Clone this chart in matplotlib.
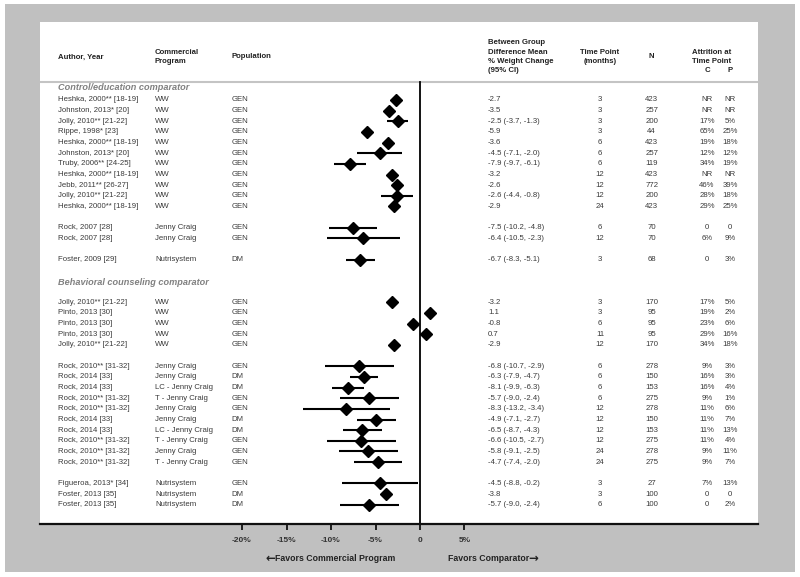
import matplotlib
matplotlib.use('Agg')
import matplotlib.pyplot as plt
from matplotlib.patches import Rectangle

plt.rcParams['font.family'] = ['Liberation Sans', 'DejaVu Sans']

# ---- data ----
authors = [
    'Heshka, 2000** [18-19]', 'Johnston, 2013* [20]', 'Jolly, 2010** [21-22]', 'Rippe, 1998* [23]',
    'Heshka, 2000** [18-19]', 'Johnston, 2013* [20]', 'Truby, 2006** [24-25]', 'Heshka, 2000** [18-19]',
    'Jebb, 2011** [26-27]', 'Jolly, 2010** [21-22]', 'Heshka, 2000** [18-19]',
    'Rock, 2007 [28]', 'Rock, 2007 [28]',
    'Foster, 2009 [29]',
    'Jolly, 2010** [21-22]', 'Pinto, 2013 [30]', 'Pinto, 2013 [30]', 'Pinto, 2013 [30]', 'Jolly, 2010** [21-22]',
    'Rock, 2010** [31-32]', 'Rock, 2014 [33]', 'Rock, 2014 [33]', 'Rock, 2010** [31-32]', 'Rock, 2010** [31-32]',
    'Rock, 2014 [33]', 'Rock, 2014 [33]', 'Rock, 2010** [31-32]', 'Rock, 2010** [31-32]', 'Rock, 2010** [31-32]',
    'Figueroa, 2013* [34]', 'Foster, 2013 [35]', 'Foster, 2013 [35]',
]
programs = ['WW'] * 11 + ['Jenny Craig'] * 2 + ['Nutrisystem'] + ['WW'] * 5 + [
    'Jenny Craig', 'Jenny Craig', 'LC - Jenny Craig', 'T - Jenny Craig', 'Jenny Craig',
    'Jenny Craig', 'LC - Jenny Craig', 'T - Jenny Craig', 'Jenny Craig', 'T - Jenny Craig',
    'Nutrisystem', 'Nutrisystem', 'Nutrisystem']
populations = ['GEN'] * 13 + ['DM'] + ['GEN'] * 5 + [
    'GEN', 'DM', 'DM', 'GEN', 'GEN', 'DM', 'DM', 'GEN', 'GEN', 'GEN', 'GEN', 'DM', 'DM']
est = [-2.7, -3.5, -2.5, -5.9, -3.6, -4.5, -7.9, -3.2, -2.6, -2.6, -2.9,
       -7.5, -6.4,
       -6.7,
       -3.2, 1.1, -0.8, 0.7, -2.9,
       -6.8, -6.3, -8.1, -5.7, -8.3, -4.9, -6.5, -6.6, -5.8, -4.7,
       -4.5, -3.8, -5.7]
ci_low = [None, None, -3.7, None, None, -7.1, -9.7, None, None, -4.4, None,
          -10.2, -10.5,
          -8.3,
          None, None, None, None, None,
          -10.7, -7.9, -9.9, -9.0, -13.2, -7.1, -8.7, -10.5, -9.1, -7.4,
          -8.8, None, -9.0]
ci_high = [None, None, -1.3, None, None, -2.0, -6.1, None, None, -0.8, None,
           -4.8, -2.3,
           -5.1,
           None, None, None, None, None,
           -2.9, -4.7, -6.3, -2.4, -3.4, -2.7, -4.3, -2.7, -2.5, -2.0,
           -0.2, None, -2.4]
months = [3, 3, 3, 3, 6, 6, 6, 12, 12, 12, 24,
          6, 12,
          3,
          3, 3, 6, 11, 12,
          6, 6, 6, 6, 12, 12, 12, 12, 24, 24,
          3, 3, 6]
n_sizes = [423, 257, 200, 44, 423, 257, 119, 423, 772, 200, 423,
           70, 70,
           68,
           170, 95, 95, 95, 170,
           278, 150, 153, 275, 278, 150, 153, 275, 278, 275,
           27, 100, 100]
attr_c = ['NR', 'NR', '17%', '65%', '19%', '12%', '34%', 'NR', '46%', '28%', '29%',
          '0', '6%',
          '0',
          '17%', '19%', '23%', '29%', '34%',
          '9%', '16%', '16%', '9%', '11%', '11%', '11%', '11%', '9%', '9%',
          '7%', '0', '0']
attr_p = ['NR', 'NR', '5%', '25%', '18%', '12%', '19%', 'NR', '39%', '18%', '25%',
          '0', '9%',
          '3%',
          '5%', '2%', '6%', '16%', '18%',
          '3%', '3%', '4%', '1%', '6%', '7%', '13%', '4%', '11%', '7%',
          '13%', '0', '2%']
rows = list(range(0, 11)) + [12, 13] + [15] + list(range(19, 24)) + list(range(25, 35)) + [36, 37, 38]
sections = ['Control/education comparator', 'Behavioral counseling comparator']
section_rows = [-1.13, 17.1]
xticks = [-20, -15, -10, -5, 0, 5]
xtick_labels = ['-20%', '-15%', '-10%', '-5%', '0', '5%']

# ---- figure ----
fig = plt.figure(figsize=(8, 5.77), dpi=100)
fig.patches.append(Rectangle((5 / 800, 5 / 577), 790 / 800, 568 / 577, transform=fig.transFigure,
                             facecolor='#c0c0c0', edgecolor='none', zorder=-5))
ax = fig.add_axes([40 / 800, 1 - 524 / 577, 718 / 800, 502 / 577])
ax.set_facecolor('white')
ax.set_xlim(-42.7, 37.98)
ax.set_ylim(39.81, -7.32)

for s in ['left', 'top', 'right']:
    ax.spines[s].set_visible(False)
ax.spines['bottom'].set_linewidth(1.6)
ax.spines['bottom'].set_color('#111111')
ax.set_yticks([])
ax.set_xticks(xticks)
ax.set_xticklabels(xtick_labels)
ax.tick_params(axis='x', direction='out', length=4.5, width=1.3, pad=4.5, color='#111111')
for lab in ax.get_xticklabels():
    lab.set_fontweight('bold')
    lab.set_fontsize(6)
    lab.set_color('#333333')

# header separator and zero line
hdr_line = -1.69
ax.axhline(hdr_line, color='#c4c4c4', lw=1.5)
ax.plot([0, 0], [hdr_line, 39.81], color='black', lw=1.3, clip_on=False)

# forest marks
for r, e, lo, hi in zip(rows, est, ci_low, ci_high):
    if lo is not None:
        ax.plot([lo, hi], [r, r], color='black', lw=1.5, solid_capstyle='butt')
    ax.plot(e, r, marker='D', color='black', ms=6.2, mec='black')

# table text
tr = ax.get_yaxis_transform()  # x in axes fraction, y in data rows
fs = 5.6
tc = '#3a3a3a'
col_author, col_prog, col_pop = 0.025, 0.160, 0.267
col_est, col_time, col_n, col_c, col_p = 0.624, 0.780, 0.852, 0.929, 0.961
for i, r in enumerate(rows):
    if ci_low[i] is not None:
        est_txt = '%.1f (%.1f, %.1f)' % (est[i], ci_low[i], ci_high[i])
    else:
        est_txt = '%.1f' % est[i]
    ax.text(col_author, r, authors[i], transform=tr, fontsize=fs, color=tc, va='center')
    ax.text(col_prog, r, programs[i], transform=tr, fontsize=fs, color=tc, va='center')
    ax.text(col_pop, r, populations[i], transform=tr, fontsize=fs, color=tc, va='center')
    ax.text(col_est, r, est_txt, transform=tr, fontsize=fs, color=tc, va='center')
    ax.text(col_time, r, str(months[i]), transform=tr, fontsize=fs, color=tc, va='center', ha='center')
    ax.text(col_n, r, str(n_sizes[i]), transform=tr, fontsize=fs, color=tc, va='center', ha='center')
    ax.text(col_c, r, attr_c[i], transform=tr, fontsize=fs, color=tc, va='center', ha='center')
    ax.text(col_p, r, attr_p[i], transform=tr, fontsize=fs, color=tc, va='center', ha='center')

for name, r in zip(sections, section_rows):
    ax.text(col_author, r, name, transform=tr, fontsize=6.6, color='#808080',
            fontweight='bold', fontstyle='italic', va='center')

# header
hc = '#222222'
hkw = dict(transform=tr, fontsize=5.6, color=hc, fontweight='bold', va='center')
ax.text(col_author, -4.04, 'Author, Year', **hkw)
ax.text(col_prog, -4.5, 'Commercial', **hkw)
ax.text(col_prog, -3.57, 'Program', **hkw)
ax.text(col_pop, -4.04, 'Population', **hkw)
ax.text(col_est, -5.35, 'Between Group', **hkw)
ax.text(col_est, -4.5, 'Difference Mean', **hkw)
ax.text(col_est, -3.57, '% Weight Change', **hkw)
ax.text(col_est, -2.72, '(95% CI)', **hkw)
ax.text(col_time, -4.5, 'Time Point', ha='center', **hkw)
ax.text(col_time, -3.57, '(months)', ha='center', **hkw)
ax.text(col_n, -4.04, 'N', ha='center', **hkw)
ax.text(0.936, -4.5, 'Attrition at', ha='center', **hkw)
ax.text(0.936, -3.57, 'Time Point', ha='center', **hkw)
ax.text(col_c, -2.72, 'C', ha='center', **hkw)
ax.text(col_p, -2.72, 'P', ha='center', **hkw)

# favors labels (arrows drawn as separate glyphs)
xt = ax.get_xaxis_transform()
fkw = dict(transform=xt, fontsize=6.3, fontweight='bold', color='#222222', va='center')
akw = dict(transform=xt, fontsize=8.5, fontweight='bold', color='#222222', va='center',
           family=['DejaVu Sans'])
ax.text(-16.3, -0.068, 'Favors Commercial Program', ha='left', **fkw)
ax.text(-16.2, -0.069, '\u2190', ha='right', **akw)
ax.text(12.3, -0.068, 'Favors Comparator', ha='right', **fkw)
ax.text(12.2, -0.069, '\u2192', ha='left', **akw)

fig.savefig('out.png', dpi=100, facecolor='white')
